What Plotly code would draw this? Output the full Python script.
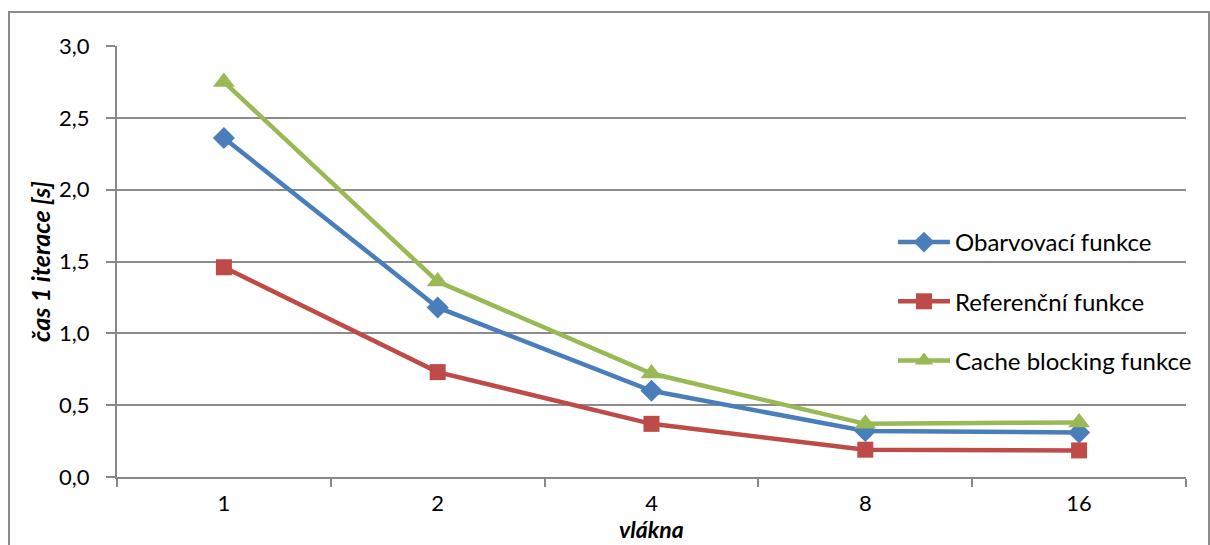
import plotly.graph_objects as go

categories = ["1", "2", "4", "8", "16"]
obarvovaci = [2.36, 1.18, 0.60, 0.32, 0.31]
referencni = [1.46, 0.73, 0.37, 0.19, 0.185]
cache_blocking = [2.75, 1.36, 0.72, 0.37, 0.38]
series_names = ["Obarvovací funkce", "Referenční funkce", "Cache blocking funkce"]
y_ticks = [0, 0.5, 1.0, 1.5, 2.0, 2.5, 3.0]

FONT = "Lato, 'Open Sans', sans-serif"
W, H = 1210, 545
ml, mr, mt, mb = 117, 24, 46, 68
pw, ph = W - ml - mr, H - mt - mb

def px_x(x):
    return (x - ml) / pw

def px_y(y):
    return (H - mb - y) / ph

fig = go.Figure()
styles = [
    (obarvovaci, "#4A7EBB", "diamond", 17),
    (referencni, "#BE4B48", "square", 16),
    (cache_blocking, "#98B954", "triangle-up", 19),
]
for i, (vals, col, sym, sz) in enumerate(styles):
    fig.add_trace(go.Scatter(
        x=categories, y=vals, name=series_names[i], mode="lines+markers",
        line=dict(color=col, width=4.5),
        marker=dict(symbol=sym, size=sz, color=col),
        legendgroup=f"g{i}",
    ))

fig.update_layout(
    width=W, height=H,
    margin=dict(l=ml, r=mr, t=mt, b=mb),
    paper_bgcolor="white", plot_bgcolor="white",
    separators=", ",
    font=dict(family=FONT, size=22, color="black"),
    showlegend=True,
    legend=dict(
        x=px_x(893), y=px_y(220), xanchor="left", yanchor="top",
        bgcolor="rgba(0,0,0,0)", tracegroupgap=25,
        font=dict(family=FONT, size=24, color="black"),
        itemwidth=52,
    ),
    xaxis=dict(
        type="category", range=[-0.5, 4.5],
        showgrid=False, showline=True, linecolor="#888888", linewidth=2,
        ticks="outside", ticklen=8, tickcolor="#888888", tickwidth=2,
        tickson="boundaries", tickfont=dict(family=FONT, size=22),
        zeroline=False, ticklabelstandoff=6,
    ),
    yaxis=dict(
        range=[0, 3.0], tickvals=y_ticks, tickformat=".1f",
        showgrid=True, gridcolor="#8c8c8c", gridwidth=1.5,
        showline=True, linecolor="#888888", linewidth=2,
        ticks="outside", ticklen=9, tickcolor="#888888", tickwidth=2,
        tickfont=dict(family=FONT, size=22), zeroline=False,
        ticklabelstandoff=12,
    ),
    shapes=[
        dict(type="rect", xref="paper", yref="paper",
             x0=px_x(9), x1=px_x(1209), y0=px_y(12), y1=px_y(600),
             line=dict(color="#8c8c8c", width=2), fillcolor="rgba(0,0,0,0)", layer="below"),
    ],
    annotations=[
        dict(text="<b><i>čas 1 iterace [s]</i></b>", xref="paper", yref="paper",
             x=px_x(40), y=px_y(262), textangle=-90, showarrow=False,
             font=dict(family=FONT, size=25), xanchor="center", yanchor="middle"),
        dict(text="<b><i>vlákna</i></b>", xref="paper", yref="paper",
             x=px_x(651), y=px_y(545), showarrow=False,
             font=dict(family=FONT, size=23), xanchor="center", yanchor="bottom"),
    ],
)

fig.write_html("out.html")
